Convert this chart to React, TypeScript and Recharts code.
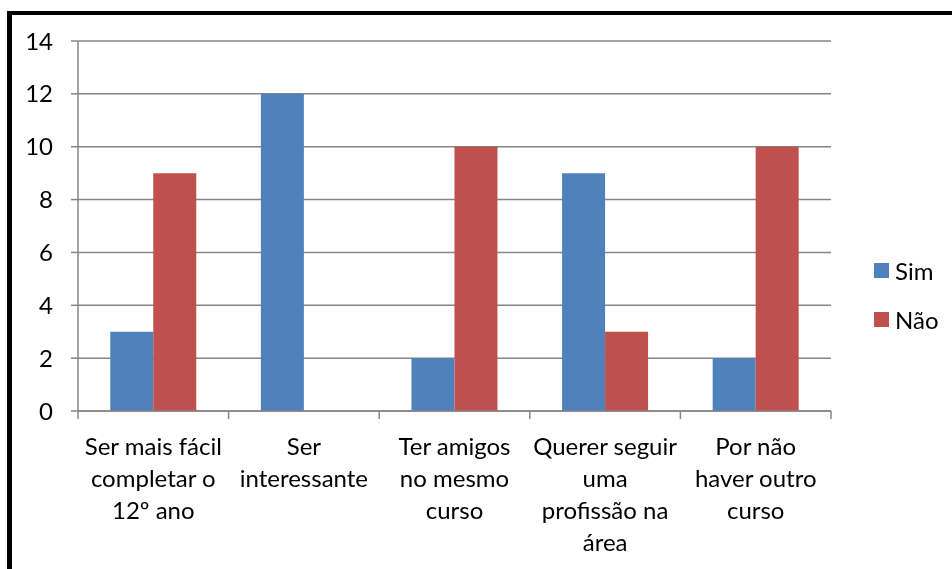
import { BarChart, Bar, XAxis, YAxis, CartesianGrid, Legend } from 'recharts';

const categories = [
  'Ser mais fácil\ncompletar o\n12º ano',
  'Ser\ninteressante',
  'Ter amigos\nno mesmo\ncurso',
  'Querer seguir\numa\nprofissão na\nárea',
  'Por não\nhaver outro\ncurso',
];
const sim = [3, 12, 2, 9, 2];
const nao = [9, 0, 10, 3, 10];
const yTicks = [0, 2, 4, 6, 8, 10, 12, 14];

const data = categories.map((name, i) => ({ name, sim: sim[i], nao: nao[i] }));

const AXIS = '#868686';
const FONT = 'Lato, "Open Sans", sans-serif';
const FS = 24;

const series = [
  { key: 'sim', label: 'Sim', color: '#4F81BD' },
  { key: 'nao', label: 'Não', color: '#C0504D' },
];

function XTick(props: any) {
  const { x, y, payload, index } = props;
  const lines: string[] = String(payload.value).split('\n');
  const half = payload.offset ?? 0;
  return (
    <g>
      <line x1={x - half} x2={x - half} y1={y} y2={y + 8} stroke={AXIS} strokeWidth={1.5} />
      {index === categories.length - 1 && (
        <line x1={x + half} x2={x + half} y1={y} y2={y + 8} stroke={AXIS} strokeWidth={1.5} />
      )}
      <text x={x} y={y} textAnchor="middle" fontSize={FS} fill="#000" fontFamily={FONT}>
        {lines.map((l, i) => (
          <tspan key={i} x={x} dy={i === 0 ? 44 : 32}>
            {l}
          </tspan>
        ))}
      </text>
    </g>
  );
}

function LegendBox() {
  return (
    <div style={{ fontFamily: FONT, fontSize: FS, color: '#000' }}>
      {series.map((s, i) => (
        <div
          key={s.key}
          style={{ display: 'flex', alignItems: 'center', height: 24, marginBottom: i === 0 ? 25 : 0 }}
        >
          <span style={{ width: 15, height: 15, background: s.color, display: 'inline-block', marginRight: 6 }} />
          <span>{s.label}</span>
        </div>
      ))}
    </div>
  );
}

export default function App() {
  return (
    <div style={{ position: 'relative', width: 936, height: 553, fontFamily: FONT }}>
      <div
        style={{
          position: 'fixed',
          left: 7,
          top: 11,
          right: 0,
          bottom: 0,
          borderLeft: '5px solid #000',
          borderTop: '4px solid #000',
        }}
      />
      <div style={{ position: 'absolute', left: 0, top: 0 }}>
        <BarChart
          width={936}
          height={553}
          data={data}
          margin={{ top: 33, right: 35, bottom: 0, left: 0 }}
          barCategoryGap="21.43%"
          barGap={0}
        >
          <CartesianGrid horizontal vertical={false} stroke={AXIS} strokeWidth={1.5} />
          <XAxis
            dataKey="name"
            interval={0}
            height={150}
            tickSize={0}
            tickMargin={0}
            tickLine={false}
            axisLine={{ stroke: AXIS, strokeWidth: 1.5 }}
            tick={<XTick />}
          />
          <YAxis
            width={70}
            domain={[0, 14]}
            ticks={yTicks}
            interval={0}
            tickSize={7}
            tickMargin={18}
            tickLine={{ stroke: AXIS, strokeWidth: 1.5 }}
            axisLine={{ stroke: AXIS, strokeWidth: 1.5 }}
            tick={{ fontSize: FS, fill: '#000', fontFamily: FONT }}
          />
          <Legend
            layout="vertical"
            align="right"
            verticalAlign="middle"
            width={78}
            wrapperStyle={{ left: 866, top: 250 }}
            content={<LegendBox />}
          />
          {series.map((s) => (
            <Bar key={s.key} dataKey={s.key} name={s.label} fill={s.color} isAnimationActive={false} />
          ))}
        </BarChart>
      </div>
    </div>
  );
}
